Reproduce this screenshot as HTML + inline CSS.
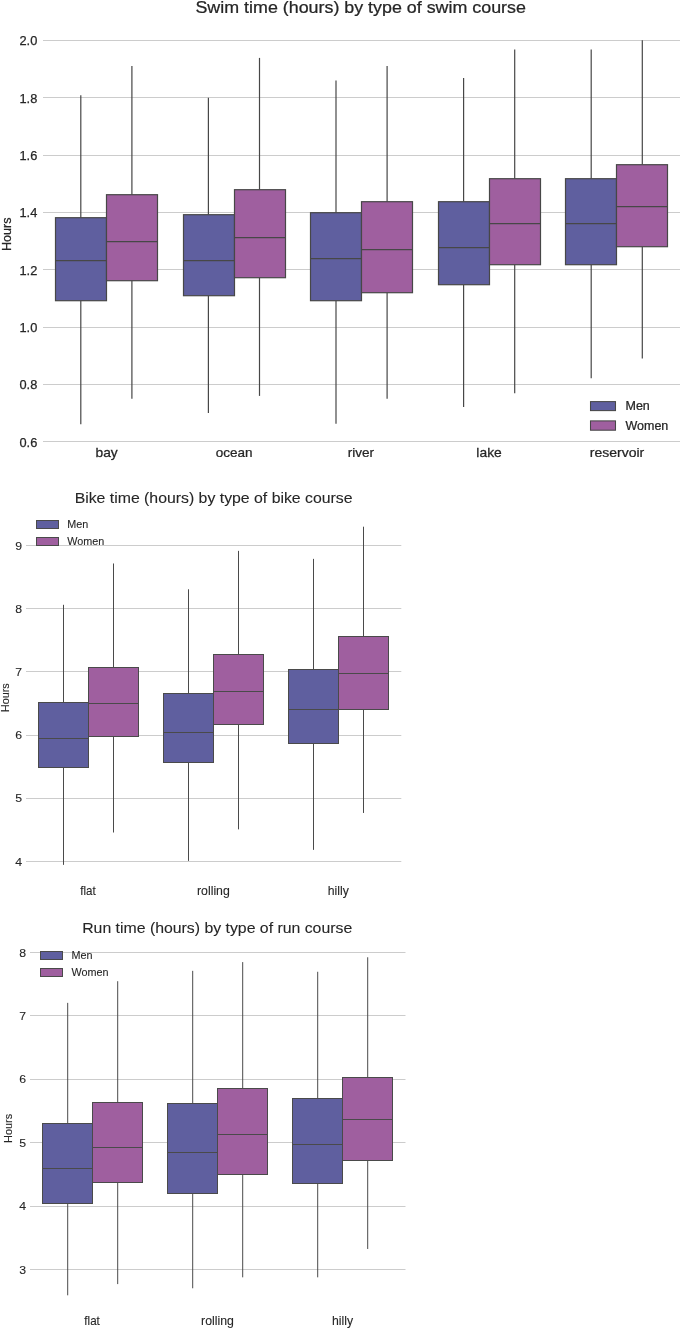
<!DOCTYPE html>
<html lang="en">
<head>
<meta charset="utf-8">
<title>Triathlon split times by course type</title>
<style>
html,body{margin:0;padding:0;background:#fff;}
body{width:682px;height:1329px;overflow:hidden;}
svg{display:block;}
svg text{font-family:"Liberation Sans", Arial, sans-serif;fill:#262626;stroke:#262626;stroke-width:0.1px;}
.c1 text{stroke-width:0.25px;}
</style>
</head>
<body>
<svg width="682" height="1329" viewBox="0 0 682 1329">
<rect x="0" y="0" width="682" height="1329" fill="#ffffff"/>
<g class="c1">
<line x1="43" y1="441.5" x2="680" y2="441.5" stroke="#cccccc" stroke-width="1.1"/>
<line x1="43" y1="384.5" x2="680" y2="384.5" stroke="#cccccc" stroke-width="1.1"/>
<line x1="43" y1="327.5" x2="680" y2="327.5" stroke="#cccccc" stroke-width="1.1"/>
<line x1="43" y1="269.5" x2="680" y2="269.5" stroke="#cccccc" stroke-width="1.1"/>
<line x1="43" y1="212.5" x2="680" y2="212.5" stroke="#cccccc" stroke-width="1.1"/>
<line x1="43" y1="155.5" x2="680" y2="155.5" stroke="#cccccc" stroke-width="1.1"/>
<line x1="43" y1="97.5" x2="680" y2="97.5" stroke="#cccccc" stroke-width="1.1"/>
<line x1="43" y1="40.5" x2="680" y2="40.5" stroke="#cccccc" stroke-width="1.1"/>
<line x1="80.8" y1="95.3" x2="80.8" y2="217.7" stroke="#474747" stroke-width="1.2"/>
<line x1="80.8" y1="300.7" x2="80.8" y2="424.3" stroke="#474747" stroke-width="1.2"/>
<rect x="55.5" y="217.7" width="51" height="83" fill="#5f5f9f" stroke="#474747" stroke-width="1.2"/>
<line x1="55.5" y1="260.7" x2="106.5" y2="260.7" stroke="#474747" stroke-width="1.2"/>
<line x1="131.9" y1="66.1" x2="131.9" y2="194.7" stroke="#474747" stroke-width="1.2"/>
<line x1="131.9" y1="280.7" x2="131.9" y2="398.7" stroke="#474747" stroke-width="1.2"/>
<rect x="106.5" y="194.7" width="51" height="86" fill="#9f5f9f" stroke="#474747" stroke-width="1.2"/>
<line x1="106.5" y1="241.7" x2="157.5" y2="241.7" stroke="#474747" stroke-width="1.2"/>
<text transform="translate(106.6,457.4) scale(1.078,1)" font-size="12.8" text-anchor="middle">bay</text>
<line x1="208.4" y1="97.8" x2="208.4" y2="214.7" stroke="#474747" stroke-width="1.2"/>
<line x1="208.4" y1="295.7" x2="208.4" y2="413.1" stroke="#474747" stroke-width="1.2"/>
<rect x="183.5" y="214.7" width="51" height="81" fill="#5f5f9f" stroke="#474747" stroke-width="1.2"/>
<line x1="183.5" y1="260.7" x2="234.5" y2="260.7" stroke="#474747" stroke-width="1.2"/>
<line x1="259.5" y1="57.9" x2="259.5" y2="189.7" stroke="#474747" stroke-width="1.2"/>
<line x1="259.5" y1="277.7" x2="259.5" y2="395.9" stroke="#474747" stroke-width="1.2"/>
<rect x="234.5" y="189.7" width="51" height="88" fill="#9f5f9f" stroke="#474747" stroke-width="1.2"/>
<line x1="234.5" y1="237.7" x2="285.5" y2="237.7" stroke="#474747" stroke-width="1.2"/>
<text transform="translate(234.15,457.4) scale(1.055,1)" font-size="12.8" text-anchor="middle">ocean</text>
<line x1="336" y1="80.6" x2="336" y2="212.7" stroke="#474747" stroke-width="1.2"/>
<line x1="336" y1="300.7" x2="336" y2="423.8" stroke="#474747" stroke-width="1.2"/>
<rect x="310.5" y="212.7" width="51" height="88" fill="#5f5f9f" stroke="#474747" stroke-width="1.2"/>
<line x1="310.5" y1="258.7" x2="361.5" y2="258.7" stroke="#474747" stroke-width="1.2"/>
<line x1="387.1" y1="66.1" x2="387.1" y2="201.7" stroke="#474747" stroke-width="1.2"/>
<line x1="387.1" y1="292.7" x2="387.1" y2="398.7" stroke="#474747" stroke-width="1.2"/>
<rect x="361.5" y="201.7" width="51" height="91" fill="#9f5f9f" stroke="#474747" stroke-width="1.2"/>
<line x1="361.5" y1="249.7" x2="412.5" y2="249.7" stroke="#474747" stroke-width="1.2"/>
<text transform="translate(360.9,457.4) scale(1.059,1)" font-size="12.8" text-anchor="middle">river</text>
<line x1="463.6" y1="77.9" x2="463.6" y2="201.7" stroke="#474747" stroke-width="1.2"/>
<line x1="463.6" y1="284.7" x2="463.6" y2="406.9" stroke="#474747" stroke-width="1.2"/>
<rect x="438.5" y="201.7" width="51" height="83" fill="#5f5f9f" stroke="#474747" stroke-width="1.2"/>
<line x1="438.5" y1="247.7" x2="489.5" y2="247.7" stroke="#474747" stroke-width="1.2"/>
<line x1="514.7" y1="49.4" x2="514.7" y2="178.7" stroke="#474747" stroke-width="1.2"/>
<line x1="514.7" y1="264.7" x2="514.7" y2="393.3" stroke="#474747" stroke-width="1.2"/>
<rect x="489.5" y="178.7" width="51" height="86" fill="#9f5f9f" stroke="#474747" stroke-width="1.2"/>
<line x1="489.5" y1="223.7" x2="540.5" y2="223.7" stroke="#474747" stroke-width="1.2"/>
<text transform="translate(489.05,457.4) scale(1.082,1)" font-size="12.8" text-anchor="middle">lake</text>
<line x1="591.2" y1="49.4" x2="591.2" y2="178.7" stroke="#474747" stroke-width="1.2"/>
<line x1="591.2" y1="264.7" x2="591.2" y2="378.3" stroke="#474747" stroke-width="1.2"/>
<rect x="565.5" y="178.7" width="51" height="86" fill="#5f5f9f" stroke="#474747" stroke-width="1.2"/>
<line x1="565.5" y1="223.7" x2="616.5" y2="223.7" stroke="#474747" stroke-width="1.2"/>
<line x1="642.3" y1="40.3" x2="642.3" y2="164.7" stroke="#474747" stroke-width="1.2"/>
<line x1="642.3" y1="246.7" x2="642.3" y2="358.4" stroke="#474747" stroke-width="1.2"/>
<rect x="616.5" y="164.7" width="51" height="82" fill="#9f5f9f" stroke="#474747" stroke-width="1.2"/>
<line x1="616.5" y1="206.7" x2="667.5" y2="206.7" stroke="#474747" stroke-width="1.2"/>
<text transform="translate(617,457.4) scale(1.094,1)" font-size="12.8" text-anchor="middle">reservoir</text>
<text x="37.3" y="446.75" font-size="12.8" text-anchor="end">0.6</text>
<text x="37.3" y="389.42" font-size="12.8" text-anchor="end">0.8</text>
<text x="37.3" y="332.08" font-size="12.8" text-anchor="end">1.0</text>
<text x="37.3" y="274.75" font-size="12.8" text-anchor="end">1.2</text>
<text x="37.3" y="217.41" font-size="12.8" text-anchor="end">1.4</text>
<text x="37.3" y="160.08" font-size="12.8" text-anchor="end">1.6</text>
<text x="37.3" y="102.75" font-size="12.8" text-anchor="end">1.8</text>
<text x="37.3" y="45.41" font-size="12.8" text-anchor="end">2.0</text>
<text transform="translate(11,234.3) rotate(-90) scale(1.000,1)" font-size="12.6" text-anchor="middle">Hours</text>
<text transform="translate(360.7,13.2) scale(1.083,1)" font-size="16.5" text-anchor="middle">Swim time (hours) by type of swim course</text>
<rect x="590.5" y="401.6" width="25" height="9" fill="#5f5f9f" stroke="#474747" stroke-width="1.05"/>
<text transform="translate(625.5,410) scale(1.033,1)" font-size="12.1">Men</text>
<rect x="590.5" y="420.9" width="25" height="9.3" fill="#9f5f9f" stroke="#474747" stroke-width="1.05"/>
<text transform="translate(625.5,429.75) scale(1.033,1)" font-size="12.1">Women</text>
</g>
<g class="c2">
<line x1="26" y1="861.5" x2="401.3" y2="861.5" stroke="#cccccc" stroke-width="1"/>
<line x1="26" y1="798.5" x2="401.3" y2="798.5" stroke="#cccccc" stroke-width="1"/>
<line x1="26" y1="735.5" x2="401.3" y2="735.5" stroke="#cccccc" stroke-width="1"/>
<line x1="26" y1="671.5" x2="401.3" y2="671.5" stroke="#cccccc" stroke-width="1"/>
<line x1="26" y1="608.5" x2="401.3" y2="608.5" stroke="#cccccc" stroke-width="1"/>
<line x1="26" y1="545.5" x2="401.3" y2="545.5" stroke="#cccccc" stroke-width="1"/>
<line x1="63.5" y1="604.8" x2="63.5" y2="702.5" stroke="#4a4a4a" stroke-width="1"/>
<line x1="63.5" y1="767.5" x2="63.5" y2="864.87" stroke="#4a4a4a" stroke-width="1"/>
<rect x="38.5" y="702.5" width="50" height="65" fill="#5f5f9f" stroke="#4a4a4a" stroke-width="1"/>
<line x1="38.5" y1="738.5" x2="88.5" y2="738.5" stroke="#4a4a4a" stroke-width="1"/>
<line x1="113.5" y1="563.48" x2="113.5" y2="667.5" stroke="#4a4a4a" stroke-width="1"/>
<line x1="113.5" y1="736.5" x2="113.5" y2="832.51" stroke="#4a4a4a" stroke-width="1"/>
<rect x="88.5" y="667.5" width="50" height="69" fill="#9f5f9f" stroke="#4a4a4a" stroke-width="1"/>
<line x1="88.5" y1="703.5" x2="138.5" y2="703.5" stroke="#4a4a4a" stroke-width="1"/>
<text transform="translate(87.9,894.7) scale(0.935,1)" font-size="12.4" text-anchor="middle">flat</text>
<line x1="188.5" y1="589.28" x2="188.5" y2="693.5" stroke="#4a4a4a" stroke-width="1"/>
<line x1="188.5" y1="762.5" x2="188.5" y2="860.9" stroke="#4a4a4a" stroke-width="1"/>
<rect x="163.5" y="693.5" width="50" height="69" fill="#5f5f9f" stroke="#4a4a4a" stroke-width="1"/>
<line x1="163.5" y1="732.5" x2="213.5" y2="732.5" stroke="#4a4a4a" stroke-width="1"/>
<line x1="238.5" y1="550.86" x2="238.5" y2="654.5" stroke="#4a4a4a" stroke-width="1"/>
<line x1="238.5" y1="724.5" x2="238.5" y2="829.36" stroke="#4a4a4a" stroke-width="1"/>
<rect x="213.5" y="654.5" width="50" height="70" fill="#9f5f9f" stroke="#4a4a4a" stroke-width="1"/>
<line x1="213.5" y1="691.5" x2="263.5" y2="691.5" stroke="#4a4a4a" stroke-width="1"/>
<text transform="translate(213.4,894.7) scale(0.992,1)" font-size="12.4" text-anchor="middle">rolling</text>
<line x1="313.5" y1="558.87" x2="313.5" y2="669.5" stroke="#4a4a4a" stroke-width="1"/>
<line x1="313.5" y1="743.5" x2="313.5" y2="849.86" stroke="#4a4a4a" stroke-width="1"/>
<rect x="288.5" y="669.5" width="50" height="74" fill="#5f5f9f" stroke="#4a4a4a" stroke-width="1"/>
<line x1="288.5" y1="709.5" x2="338.5" y2="709.5" stroke="#4a4a4a" stroke-width="1"/>
<line x1="363.5" y1="526.7" x2="363.5" y2="636.5" stroke="#4a4a4a" stroke-width="1"/>
<line x1="363.5" y1="709.5" x2="363.5" y2="812.96" stroke="#4a4a4a" stroke-width="1"/>
<rect x="338.5" y="636.5" width="50" height="73" fill="#9f5f9f" stroke="#4a4a4a" stroke-width="1"/>
<line x1="338.5" y1="673.5" x2="388.5" y2="673.5" stroke="#4a4a4a" stroke-width="1"/>
<text transform="translate(338.3,894.7) scale(0.988,1)" font-size="12.4" text-anchor="middle">hilly</text>
<text transform="translate(22.2,865.6) scale(1.070,1)" font-size="11.5" text-anchor="end">4</text>
<text transform="translate(22.2,802.4) scale(1.070,1)" font-size="11.5" text-anchor="end">5</text>
<text transform="translate(22.2,739.2) scale(1.070,1)" font-size="11.5" text-anchor="end">6</text>
<text transform="translate(22.2,676) scale(1.070,1)" font-size="11.5" text-anchor="end">7</text>
<text transform="translate(22.2,612.8) scale(1.070,1)" font-size="11.5" text-anchor="end">8</text>
<text transform="translate(22.2,549.6) scale(1.070,1)" font-size="11.5" text-anchor="end">9</text>
<text transform="translate(9.1,697.7) rotate(-90) scale(1.000,1)" font-size="10.9" text-anchor="middle">Hours</text>
<text transform="translate(213.6,502.8) scale(1.080,1)" font-size="14.67" text-anchor="middle">Bike time (hours) by type of bike course</text>
<rect x="36.5" y="520.5" width="22" height="8" fill="#5f5f9f" stroke="#4a4a4a" stroke-width="1"/>
<text x="67.3" y="528.1" font-size="10.8">Men</text>
<rect x="36.5" y="537.5" width="22" height="8" fill="#9f5f9f" stroke="#4a4a4a" stroke-width="1"/>
<text x="67.3" y="545" font-size="10.8">Women</text>
</g>
<g class="c3">
<line x1="30" y1="1269.5" x2="405.5" y2="1269.5" stroke="#cccccc" stroke-width="1"/>
<line x1="30" y1="1206.5" x2="405.5" y2="1206.5" stroke="#cccccc" stroke-width="1"/>
<line x1="30" y1="1142.5" x2="405.5" y2="1142.5" stroke="#cccccc" stroke-width="1"/>
<line x1="30" y1="1079.5" x2="405.5" y2="1079.5" stroke="#cccccc" stroke-width="1"/>
<line x1="30" y1="1015.5" x2="405.5" y2="1015.5" stroke="#cccccc" stroke-width="1"/>
<line x1="30" y1="952.5" x2="405.5" y2="952.5" stroke="#cccccc" stroke-width="1"/>
<line x1="67.69" y1="1002.86" x2="67.69" y2="1123.5" stroke="#4a4a4a" stroke-width="1"/>
<line x1="67.69" y1="1203.5" x2="67.69" y2="1295.31" stroke="#4a4a4a" stroke-width="1"/>
<rect x="42.5" y="1123.5" width="50" height="80" fill="#5f5f9f" stroke="#4a4a4a" stroke-width="1"/>
<line x1="42.5" y1="1168.5" x2="92.5" y2="1168.5" stroke="#4a4a4a" stroke-width="1"/>
<line x1="117.69" y1="981.21" x2="117.69" y2="1102.5" stroke="#4a4a4a" stroke-width="1"/>
<line x1="117.69" y1="1182.5" x2="117.69" y2="1284.1" stroke="#4a4a4a" stroke-width="1"/>
<rect x="92.5" y="1102.5" width="50" height="80" fill="#9f5f9f" stroke="#4a4a4a" stroke-width="1"/>
<line x1="92.5" y1="1147.5" x2="142.5" y2="1147.5" stroke="#4a4a4a" stroke-width="1"/>
<text transform="translate(92.1,1324.7) scale(0.935,1)" font-size="12.4" text-anchor="middle">flat</text>
<line x1="192.69" y1="970.83" x2="192.69" y2="1103.5" stroke="#4a4a4a" stroke-width="1"/>
<line x1="192.69" y1="1193.5" x2="192.69" y2="1288.28" stroke="#4a4a4a" stroke-width="1"/>
<rect x="167.5" y="1103.5" width="50" height="90" fill="#5f5f9f" stroke="#4a4a4a" stroke-width="1"/>
<line x1="167.5" y1="1152.5" x2="217.5" y2="1152.5" stroke="#4a4a4a" stroke-width="1"/>
<line x1="242.69" y1="962.1" x2="242.69" y2="1088.5" stroke="#4a4a4a" stroke-width="1"/>
<line x1="242.69" y1="1174.5" x2="242.69" y2="1277.33" stroke="#4a4a4a" stroke-width="1"/>
<rect x="217.5" y="1088.5" width="50" height="86" fill="#9f5f9f" stroke="#4a4a4a" stroke-width="1"/>
<line x1="217.5" y1="1134.5" x2="267.5" y2="1134.5" stroke="#4a4a4a" stroke-width="1"/>
<text transform="translate(217.5,1324.7) scale(0.992,1)" font-size="12.4" text-anchor="middle">rolling</text>
<line x1="317.69" y1="971.78" x2="317.69" y2="1098.5" stroke="#4a4a4a" stroke-width="1"/>
<line x1="317.69" y1="1183.5" x2="317.69" y2="1277.33" stroke="#4a4a4a" stroke-width="1"/>
<rect x="292.5" y="1098.5" width="50" height="85" fill="#5f5f9f" stroke="#4a4a4a" stroke-width="1"/>
<line x1="292.5" y1="1144.5" x2="342.5" y2="1144.5" stroke="#4a4a4a" stroke-width="1"/>
<line x1="367.69" y1="957.28" x2="367.69" y2="1077.5" stroke="#4a4a4a" stroke-width="1"/>
<line x1="367.69" y1="1160.5" x2="367.69" y2="1248.97" stroke="#4a4a4a" stroke-width="1"/>
<rect x="342.5" y="1077.5" width="50" height="83" fill="#9f5f9f" stroke="#4a4a4a" stroke-width="1"/>
<line x1="342.5" y1="1119.5" x2="392.5" y2="1119.5" stroke="#4a4a4a" stroke-width="1"/>
<text transform="translate(342.5,1324.7) scale(0.988,1)" font-size="12.4" text-anchor="middle">hilly</text>
<text transform="translate(26.2,1273.5) scale(1.070,1)" font-size="11.5" text-anchor="end">3</text>
<text transform="translate(26.2,1210.1) scale(1.070,1)" font-size="11.5" text-anchor="end">4</text>
<text transform="translate(26.2,1146.7) scale(1.070,1)" font-size="11.5" text-anchor="end">5</text>
<text transform="translate(26.2,1083.3) scale(1.070,1)" font-size="11.5" text-anchor="end">6</text>
<text transform="translate(26.2,1019.9) scale(1.070,1)" font-size="11.5" text-anchor="end">7</text>
<text transform="translate(26.2,956.5) scale(1.070,1)" font-size="11.5" text-anchor="end">8</text>
<text transform="translate(12.15,1128.4) rotate(-90) scale(1.000,1)" font-size="10.9" text-anchor="middle">Hours</text>
<text transform="translate(217.2,933) scale(1.080,1)" font-size="14.67" text-anchor="middle">Run time (hours) by type of run course</text>
<rect x="40.5" y="951.5" width="22" height="8" fill="#5f5f9f" stroke="#4a4a4a" stroke-width="1"/>
<text x="71.6" y="958.8" font-size="10.8">Men</text>
<rect x="40.5" y="968.5" width="22" height="8" fill="#9f5f9f" stroke="#4a4a4a" stroke-width="1"/>
<text x="71.6" y="975.7" font-size="10.8">Women</text>
</g>
</svg>
</body>
</html>
